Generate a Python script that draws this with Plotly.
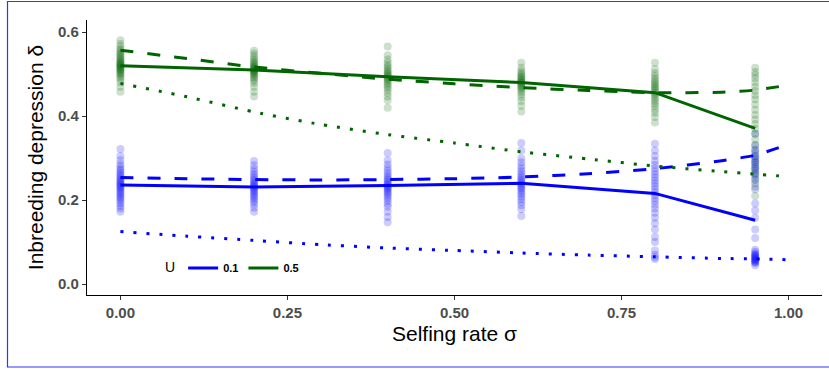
import plotly.graph_objects as go

# ---------------- data ----------------
sigma_sim = [0.0, 0.2, 0.4, 0.6, 0.8, 0.95]

# simulation replicate values (U = 0.1)
pts_u01 = {
    0.0: [0.322, 0.305, 0.295, 0.286, 0.280, 0.274, 0.270, 0.265, 0.261, 0.257, 0.253,
          0.249, 0.246, 0.243, 0.240, 0.237, 0.234, 0.231, 0.228, 0.225, 0.221, 0.218,
          0.214, 0.210, 0.206, 0.202, 0.197, 0.192, 0.186, 0.180, 0.172],
    0.2: [0.293, 0.283, 0.275, 0.268, 0.262, 0.257, 0.252, 0.248, 0.244, 0.240, 0.237,
          0.234, 0.231, 0.228, 0.225, 0.222, 0.218, 0.214, 0.210, 0.206, 0.201, 0.196,
          0.190, 0.182, 0.172],
    0.4: [0.312, 0.295, 0.285, 0.277, 0.270, 0.264, 0.258, 0.253, 0.249, 0.245, 0.241,
          0.238, 0.235, 0.232, 0.229, 0.226, 0.222, 0.218, 0.214, 0.209, 0.204, 0.198,
          0.191, 0.184, 0.172, 0.160, 0.147],
    0.6: [0.336, 0.318, 0.300, 0.290, 0.282, 0.275, 0.268, 0.262, 0.257, 0.252, 0.248,
          0.244, 0.240, 0.236, 0.232, 0.228, 0.224, 0.219, 0.214, 0.208, 0.202, 0.195,
          0.188, 0.178, 0.162],
    0.8: [0.334, 0.318, 0.305, 0.294, 0.284, 0.276, 0.268, 0.261, 0.254, 0.247, 0.240,
          0.233, 0.226, 0.219, 0.212, 0.205, 0.197, 0.189, 0.180, 0.170, 0.158, 0.145,
          0.130, 0.112, 0.100, 0.080, 0.070, 0.064, 0.060],
    0.95: [0.358, 0.330, 0.320, 0.312, 0.305, 0.300, 0.295, 0.290, 0.285, 0.280, 0.275,
           0.270, 0.264, 0.258, 0.250, 0.240, 0.226, 0.192, 0.175, 0.158, 0.130, 0.110,
           0.082, 0.077, 0.073, 0.070, 0.068, 0.066, 0.064, 0.062, 0.060, 0.058, 0.056,
           0.054, 0.052, 0.050, 0.045],
}
# simulation replicate values (U = 0.5)
pts_u05 = {
    0.0: [0.581, 0.572, 0.566, 0.560, 0.556, 0.552, 0.548, 0.545, 0.541, 0.538, 0.535,
          0.532, 0.529, 0.527, 0.525, 0.523, 0.521, 0.519, 0.517, 0.515, 0.513, 0.511,
          0.509, 0.506, 0.503, 0.500, 0.496, 0.492, 0.487, 0.480, 0.470, 0.458],
    0.2: [0.556, 0.549, 0.543, 0.538, 0.533, 0.529, 0.526, 0.523, 0.520, 0.517, 0.515,
          0.513, 0.511, 0.509, 0.507, 0.505, 0.503, 0.500, 0.497, 0.493, 0.489, 0.485,
          0.479, 0.470, 0.458, 0.447],
    0.4: [0.566, 0.545, 0.535, 0.528, 0.522, 0.517, 0.512, 0.508, 0.504, 0.501, 0.498,
          0.495, 0.492, 0.489, 0.486, 0.482, 0.478, 0.473, 0.468, 0.462, 0.455, 0.447,
          0.438, 0.420],
    0.6: [0.527, 0.515, 0.508, 0.503, 0.499, 0.495, 0.492, 0.489, 0.486, 0.483, 0.481,
          0.479, 0.476, 0.473, 0.470, 0.467, 0.463, 0.458, 0.452, 0.445, 0.436, 0.425,
          0.411],
    0.8: [0.527, 0.512, 0.503, 0.496, 0.490, 0.485, 0.480, 0.476, 0.472, 0.468, 0.464,
          0.460, 0.456, 0.452, 0.447, 0.442, 0.436, 0.430, 0.424, 0.416, 0.408, 0.398,
          0.385],
    0.95: [0.515, 0.505, 0.498, 0.490, 0.480, 0.470, 0.460, 0.450, 0.440, 0.428, 0.415,
           0.403, 0.392, 0.381, 0.370, 0.358, 0.345, 0.332, 0.318, 0.304, 0.290, 0.276,
           0.262, 0.248, 0.232, 0.210],
}

# simulation means (solid lines)
mean_u01 = [0.236, 0.231, 0.235, 0.240, 0.216, 0.152]
mean_u05 = [0.520, 0.510, 0.494, 0.480, 0.456, 0.371]

# theoretical predictions
sigma_th = [0.0, 0.1, 0.2, 0.3, 0.4, 0.5, 0.6, 0.7, 0.8, 0.9, 0.95, 1.0]
dash_u01 = [0.254, 0.251, 0.249, 0.248, 0.249, 0.251, 0.255, 0.263, 0.275, 0.294, 0.307, 0.333]
dash_u05 = [0.557, 0.537, 0.517, 0.502, 0.488, 0.477, 0.468, 0.461, 0.456, 0.457, 0.462, 0.474]
dot_u01 = [0.125, 0.114, 0.104, 0.094, 0.086, 0.080, 0.074, 0.069, 0.065, 0.061, 0.060, 0.058]
dot_u05 = [0.478, 0.446, 0.410, 0.380, 0.356, 0.336, 0.315, 0.298, 0.281, 0.268, 0.262, 0.256]

x_ticks = [0.0, 0.25, 0.5, 0.75, 1.0]
x_ticklabels = ["0.00", "0.25", "0.50", "0.75", "1.00"]
y_ticks = [0.0, 0.2, 0.4, 0.6]
y_ticklabels = ["0.0", "0.2", "0.4", "0.6"]

BLUE = "#0000FF"
GREEN = "#006400"

fig = go.Figure()

# points
for pts, col in [(pts_u01, BLUE), (pts_u05, GREEN)]:
    xs, ys = [], []
    for s in sigma_sim:
        for v in pts[s]:
            xs.append(s)
            ys.append(v)
    fig.add_trace(go.Scatter(
        x=xs, y=ys, mode="markers", showlegend=False, hoverinfo="skip",
        marker=dict(color=col, size=8, opacity=0.2, line=dict(width=0)),
    ))

# theoretical curves
for ys, col, dash in [(dash_u01, BLUE, "13px,14px"), (dash_u05, GREEN, "13px,14px"),
                      (dot_u01, BLUE, "3px,10px"), (dot_u05, GREEN, "3px,10px")]:
    fig.add_trace(go.Scatter(
        x=sigma_th, y=ys, mode="lines", showlegend=False,
        line=dict(color=col, width=3, dash=dash, shape="spline", smoothing=0.6),
    ))

# simulation means
fig.add_trace(go.Scatter(x=sigma_sim, y=mean_u01, mode="lines", name="0.1",
                         line=dict(color=BLUE, width=3)))
fig.add_trace(go.Scatter(x=sigma_sim, y=mean_u05, mode="lines", name="0.5",
                         line=dict(color=GREEN, width=3)))

W, H = 829, 369
L, R, T, B = 87, 7, 20, 74
pw, ph = W - L - R, H - T - B


def px2x(p):
    return (p - L) / pw


def px2y(p):
    return (H - B - p) / ph


fig.add_shape(type="rect", xref="paper", yref="paper",
              x0=px2x(7.5), x1=px2x(832), y0=px2y(367), y1=px2y(1.5),
              line=dict(color="#3333FF", width=1.2), fillcolor="rgba(0,0,0,0)")

fig.update_layout(
    width=W, height=H,
    margin=dict(l=L, r=R, t=T, b=B, pad=0),
    paper_bgcolor="white", plot_bgcolor="white",
    font=dict(family="Liberation Sans, Arial, sans-serif"),
    xaxis=dict(
        range=[-0.05, 1.05], tickvals=x_ticks, ticktext=x_ticklabels,
        showgrid=False, zeroline=False, showline=True, linecolor="black", linewidth=1.3,
        ticks="outside", ticklen=4, tickcolor="#333333", tickwidth=1,
        tickfont=dict(size=15, color="#4D4D4D", weight="bold"),
        title=dict(text="Selfing rate σ", font=dict(size=21, color="black"), standoff=6),
    ),
    yaxis=dict(
        range=[-0.026, 0.629], tickvals=y_ticks, ticktext=y_ticklabels,
        showgrid=False, zeroline=False, showline=True, linecolor="black", linewidth=1.3,
        ticks="outside", ticklen=4, tickcolor="#333333", tickwidth=1,
        tickfont=dict(size=15, color="#4D4D4D", weight="bold"),
        title=dict(text="Inbreeding depression δ", font=dict(size=21, color="black"), standoff=8),
    ),
    legend=dict(
        orientation="h", x=px2x(163), y=px2y(268), xanchor="left", yanchor="middle",
        bgcolor="rgba(0,0,0,0)",
        title=dict(text="U", font=dict(size=14, color="black", weight="normal"), side="left"),
        font=dict(size=11, color="black", weight="bold"),
        itemwidth=30,
    ),
)

fig.write_html("out.html", config={"displayModeBar": False},
               post_script="document.body.style.margin='0px';")
